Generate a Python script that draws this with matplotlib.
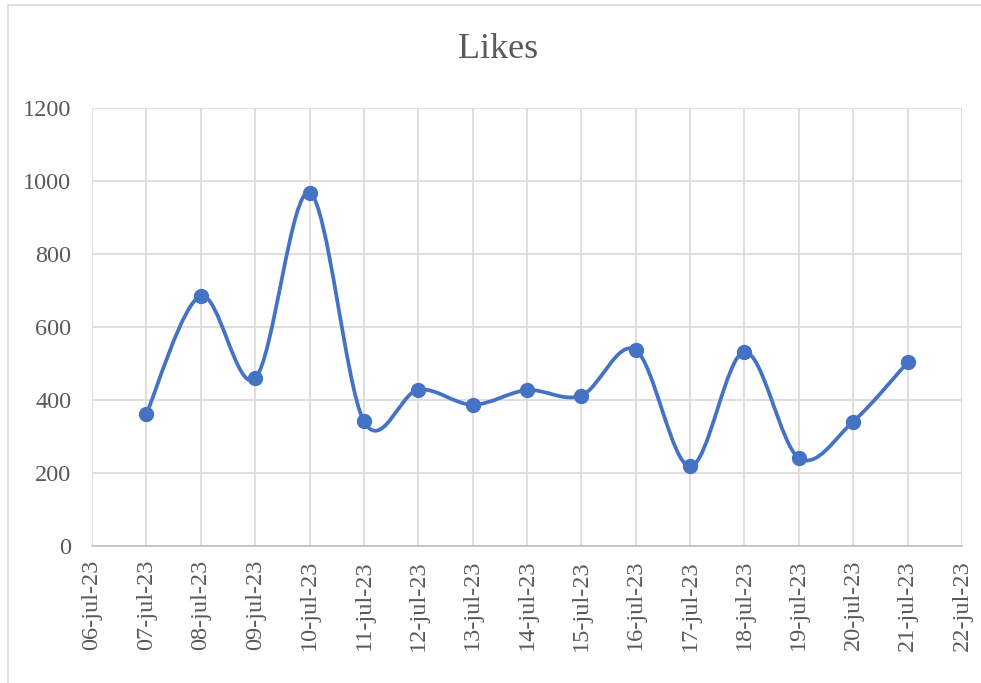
import matplotlib.pyplot as plt
from matplotlib.path import Path
from matplotlib.patches import PathPatch, Rectangle

# day of July 2023 and number of likes
days = [7, 8, 9, 10, 11, 12, 13, 14, 15, 16, 17, 18, 19, 20, 21]
likes = [362, 685, 459, 968, 342, 428, 387, 427, 412, 537, 218, 532, 241, 341, 503]

tick_days = list(range(6, 23))
tick_labels = [f'{d:02d}-jul-23' for d in tick_days]
y_ticks = [0, 200, 400, 600, 800, 1000, 1200]

line_color = '#4472C4'
text_color = '#595959'
grid_color = '#d9d9d9'

plt.rcParams['font.family'] = ['Liberation Serif', 'DejaVu Serif']


def smooth_path(xs, ys):
    # Excel style smoothed line: cubic bezier through every point
    pts = list(zip(xs, ys))
    verts = [pts[0]]
    codes = [Path.MOVETO]
    n = len(pts)
    for i in range(n - 1):
        p0 = pts[i - 1] if i > 0 else pts[i]
        p1 = pts[i]
        p2 = pts[i + 1]
        p3 = pts[i + 2] if i + 2 < n else pts[i + 1]
        c1 = (p1[0] + (p2[0] - p0[0]) / 6, p1[1] + (p2[1] - p0[1]) / 6)
        c2 = (p2[0] - (p3[0] - p1[0]) / 6, p2[1] - (p3[1] - p1[1]) / 6)
        verts += [c1, c2, p2]
        codes += [Path.CURVE4] * 3
    return Path(verts, codes)


fig = plt.figure(figsize=(9.81, 6.83), dpi=100)
ax = fig.add_axes([0.0938, 0.2006, 0.8868, 0.6413])

fig.patches.append(Rectangle((8 / 981, -0.1), 1.2, 1.1 - 5 / 683, transform=fig.transFigure,
                             fill=False, edgecolor=grid_color, linewidth=1.2))

ax.add_patch(PathPatch(smooth_path(days, likes), fill=False, edgecolor=line_color,
                       linewidth=2.7, capstyle='round', joinstyle='round', zorder=3))
ax.plot(days, likes, linestyle='none', marker='o', markersize=10,
        color=line_color, zorder=4)

ax.set_xlim(6, 22)
ax.set_ylim(0, 1200)
ax.set_xticks(tick_days)
ax.set_xticklabels(tick_labels, rotation=90, fontsize=17.5, color=text_color)
ax.set_yticks(y_ticks)
ax.set_yticklabels([str(v) for v in y_ticks], fontsize=17.5, color=text_color)

ax.grid(True, color=grid_color, linewidth=1.2)
ax.set_axisbelow(True)
for side in ['top', 'right', 'left']:
    ax.spines[side].set_visible(False)
ax.spines['bottom'].set_color('#bfbfbf')
ax.spines['bottom'].set_linewidth(1.2)
ax.tick_params(axis='x', length=0, pad=10)
ax.tick_params(axis='y', length=0, pad=15)

fig.text(0.508, 0.928, 'Likes', ha='center', va='center', fontsize=26, color=text_color)

plt.savefig('out.png', dpi=100)
